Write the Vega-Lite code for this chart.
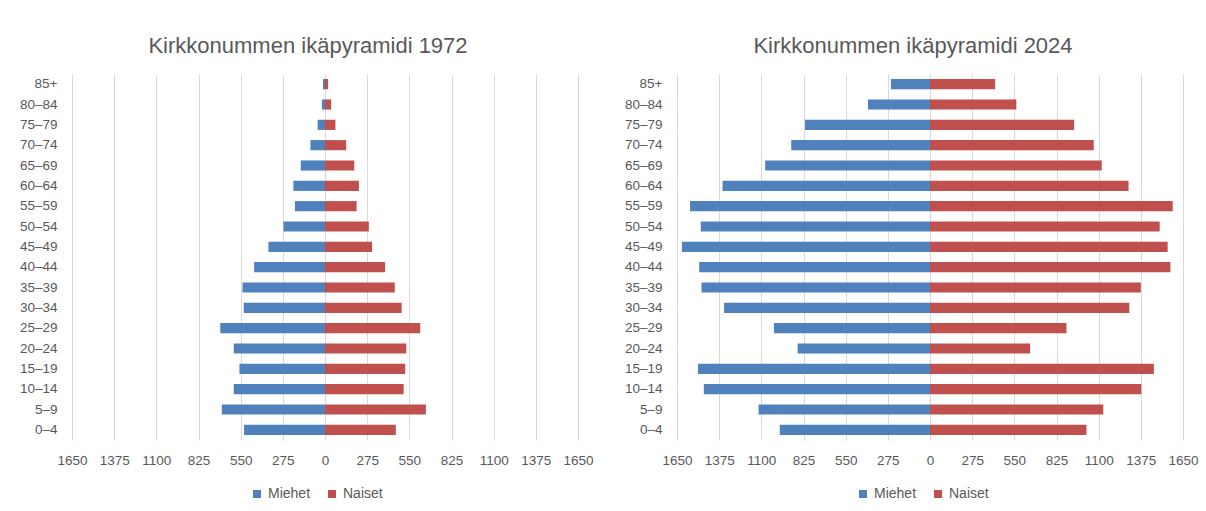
{
  "$schema": "https://vega.github.io/schema/vega-lite/v6.json",
  "background": "white",
  "padding": {"left": 19, "top": 35, "right": 5, "bottom": 5},
  "spacing": 99,
  "bounds": "flush",
  "config": {
    "view": {"stroke": null},
    "font": "Liberation Sans",
    "title": {"fontSize": 22, "fontWeight": "normal", "color": "#595959", "anchor": "middle", "frame": "group", "dx": -17, "offset": 16, "font": "Liberation Sans"},
    "axis": {"labelFont": "Liberation Sans", "labelFontSize": 13.5, "labelColor": "#595959", "domain": false, "ticks": false, "title": null, "labelOverlap": false, "labelBound": false, "labelFlush": false},
    "legend": {"labelFont": "Liberation Sans", "labelFontSize": 14, "labelColor": "#595959", "padding": 0}
  },
  "datasets": {
    "pop": [
      {"year": 1972, "age": "85+", "sex": "Miehet", "value": 13},
      {"year": 1972, "age": "85+", "sex": "Naiset", "value": 20},
      {"year": 1972, "age": "80–84", "sex": "Miehet", "value": 20},
      {"year": 1972, "age": "80–84", "sex": "Naiset", "value": 40},
      {"year": 1972, "age": "75–79", "sex": "Miehet", "value": 48},
      {"year": 1972, "age": "75–79", "sex": "Naiset", "value": 68},
      {"year": 1972, "age": "70–74", "sex": "Miehet", "value": 95},
      {"year": 1972, "age": "70–74", "sex": "Naiset", "value": 138},
      {"year": 1972, "age": "65–69", "sex": "Miehet", "value": 158},
      {"year": 1972, "age": "65–69", "sex": "Naiset", "value": 191},
      {"year": 1972, "age": "60–64", "sex": "Miehet", "value": 206},
      {"year": 1972, "age": "60–64", "sex": "Naiset", "value": 221},
      {"year": 1972, "age": "55–59", "sex": "Miehet", "value": 196},
      {"year": 1972, "age": "55–59", "sex": "Naiset", "value": 206},
      {"year": 1972, "age": "50–54", "sex": "Miehet", "value": 271},
      {"year": 1972, "age": "50–54", "sex": "Naiset", "value": 286},
      {"year": 1972, "age": "45–49", "sex": "Miehet", "value": 369},
      {"year": 1972, "age": "45–49", "sex": "Naiset", "value": 307},
      {"year": 1972, "age": "40–44", "sex": "Miehet", "value": 462},
      {"year": 1972, "age": "40–44", "sex": "Naiset", "value": 392},
      {"year": 1972, "age": "35–39", "sex": "Miehet", "value": 538},
      {"year": 1972, "age": "35–39", "sex": "Naiset", "value": 455},
      {"year": 1972, "age": "30–34", "sex": "Miehet", "value": 530},
      {"year": 1972, "age": "30–34", "sex": "Naiset", "value": 500},
      {"year": 1972, "age": "25–29", "sex": "Miehet", "value": 683},
      {"year": 1972, "age": "25–29", "sex": "Naiset", "value": 621},
      {"year": 1972, "age": "20–24", "sex": "Miehet", "value": 595},
      {"year": 1972, "age": "20–24", "sex": "Naiset", "value": 530},
      {"year": 1972, "age": "15–19", "sex": "Miehet", "value": 558},
      {"year": 1972, "age": "15–19", "sex": "Naiset", "value": 523},
      {"year": 1972, "age": "10–14", "sex": "Miehet", "value": 595},
      {"year": 1972, "age": "10–14", "sex": "Naiset", "value": 513},
      {"year": 1972, "age": "5–9", "sex": "Miehet", "value": 673},
      {"year": 1972, "age": "5–9", "sex": "Naiset", "value": 658},
      {"year": 1972, "age": "0–4", "sex": "Miehet", "value": 528},
      {"year": 1972, "age": "0–4", "sex": "Naiset", "value": 462},
      {"year": 2024, "age": "85+", "sex": "Miehet", "value": 255},
      {"year": 2024, "age": "85+", "sex": "Naiset", "value": 425},
      {"year": 2024, "age": "80–84", "sex": "Miehet", "value": 405},
      {"year": 2024, "age": "80–84", "sex": "Naiset", "value": 563},
      {"year": 2024, "age": "75–79", "sex": "Miehet", "value": 815},
      {"year": 2024, "age": "75–79", "sex": "Naiset", "value": 940},
      {"year": 2024, "age": "70–74", "sex": "Miehet", "value": 905},
      {"year": 2024, "age": "70–74", "sex": "Naiset", "value": 1068},
      {"year": 2024, "age": "65–69", "sex": "Miehet", "value": 1075},
      {"year": 2024, "age": "65–69", "sex": "Naiset", "value": 1120},
      {"year": 2024, "age": "60–64", "sex": "Miehet", "value": 1353},
      {"year": 2024, "age": "60–64", "sex": "Naiset", "value": 1295},
      {"year": 2024, "age": "55–59", "sex": "Miehet", "value": 1565},
      {"year": 2024, "age": "55–59", "sex": "Naiset", "value": 1583},
      {"year": 2024, "age": "50–54", "sex": "Miehet", "value": 1495},
      {"year": 2024, "age": "50–54", "sex": "Naiset", "value": 1498},
      {"year": 2024, "age": "45–49", "sex": "Miehet", "value": 1618},
      {"year": 2024, "age": "45–49", "sex": "Naiset", "value": 1550},
      {"year": 2024, "age": "40–44", "sex": "Miehet", "value": 1505},
      {"year": 2024, "age": "40–44", "sex": "Naiset", "value": 1568},
      {"year": 2024, "age": "35–39", "sex": "Miehet", "value": 1490},
      {"year": 2024, "age": "35–39", "sex": "Naiset", "value": 1375},
      {"year": 2024, "age": "30–34", "sex": "Miehet", "value": 1343},
      {"year": 2024, "age": "30–34", "sex": "Naiset", "value": 1300},
      {"year": 2024, "age": "25–29", "sex": "Miehet", "value": 1018},
      {"year": 2024, "age": "25–29", "sex": "Naiset", "value": 890},
      {"year": 2024, "age": "20–24", "sex": "Miehet", "value": 863},
      {"year": 2024, "age": "20–24", "sex": "Naiset", "value": 653},
      {"year": 2024, "age": "15–19", "sex": "Miehet", "value": 1513},
      {"year": 2024, "age": "15–19", "sex": "Naiset", "value": 1460},
      {"year": 2024, "age": "10–14", "sex": "Miehet", "value": 1475},
      {"year": 2024, "age": "10–14", "sex": "Naiset", "value": 1378},
      {"year": 2024, "age": "5–9", "sex": "Miehet", "value": 1118},
      {"year": 2024, "age": "5–9", "sex": "Naiset", "value": 1130},
      {"year": 2024, "age": "0–4", "sex": "Miehet", "value": 980},
      {"year": 2024, "age": "0–4", "sex": "Naiset", "value": 1020}
    ]
  },
  "hconcat": [
    {
      "title": "Kirkkonummen ikäpyramidi 1972",
      "width": 506,
      "height": 366,
      "data": {"name": "pop"},
      "transform": [
        {"filter": "datum.year == 1972"},
        {"calculate": "datum.sex == 'Miehet' ? -datum.value : datum.value", "as": "signed"}
      ],
      "mark": {"type": "bar"},
      "encoding": {
        "y": {"field": "age", "type": "nominal", "sort": ["85+", "80–84", "75–79", "70–74", "65–69", "60–64", "55–59", "50–54", "45–49", "40–44", "35–39", "30–34", "25–29", "20–24", "15–19", "10–14", "5–9", "0–4"], "scale": {"paddingInner": 0.5, "paddingOuter": 0.25}, "axis": {"labelPadding": 15, "grid": false}},
        "x": {"field": "signed", "type": "quantitative", "stack": null, "scale": {"domain": [-1650, 1650], "nice": false}, "axis": {"values": [-1650, -1375, -1100, -825, -550, -275, 0, 275, 550, 825, 1100, 1375, 1650], "labelExpr": "abs(datum.value)", "grid": true, "gridColor": "#d9d9d9", "labelPadding": 13}},
        "color": {"field": "sex", "type": "nominal", "scale": {"domain": ["Miehet", "Naiset"], "range": ["#4f81bd", "#c0504d"]}, "legend": {"title": null, "orient": "none", "direction": "horizontal", "legendX": 178, "legendY": 413, "symbolType": "square", "symbolSize": 64, "symbolStrokeWidth": 0, "labelOffset": 4, "columnPadding": 14}}
      }
    },
    {
      "title": "Kirkkonummen ikäpyramidi 2024",
      "width": 506,
      "height": 366,
      "data": {"name": "pop"},
      "transform": [
        {"filter": "datum.year == 2024"},
        {"calculate": "datum.sex == 'Miehet' ? -datum.value : datum.value", "as": "signed"}
      ],
      "mark": {"type": "bar"},
      "encoding": {
        "y": {"field": "age", "type": "nominal", "sort": ["85+", "80–84", "75–79", "70–74", "65–69", "60–64", "55–59", "50–54", "45–49", "40–44", "35–39", "30–34", "25–29", "20–24", "15–19", "10–14", "5–9", "0–4"], "scale": {"paddingInner": 0.5, "paddingOuter": 0.25}, "axis": {"labelPadding": 15, "grid": false}},
        "x": {"field": "signed", "type": "quantitative", "stack": null, "scale": {"domain": [-1650, 1650], "nice": false}, "axis": {"values": [-1650, -1375, -1100, -825, -550, -275, 0, 275, 550, 825, 1100, 1375, 1650], "labelExpr": "abs(datum.value)", "grid": true, "gridColor": "#d9d9d9", "labelPadding": 13}},
        "color": {"field": "sex", "type": "nominal", "scale": {"domain": ["Miehet", "Naiset"], "range": ["#4f81bd", "#c0504d"]}, "legend": {"title": null, "orient": "none", "direction": "horizontal", "legendX": 179, "legendY": 413, "symbolType": "square", "symbolSize": 64, "symbolStrokeWidth": 0, "labelOffset": 4, "columnPadding": 14}}
      }
    }
  ],
  "resolve": {"scale": {"color": "independent"}, "legend": {"color": "independent"}}
}
